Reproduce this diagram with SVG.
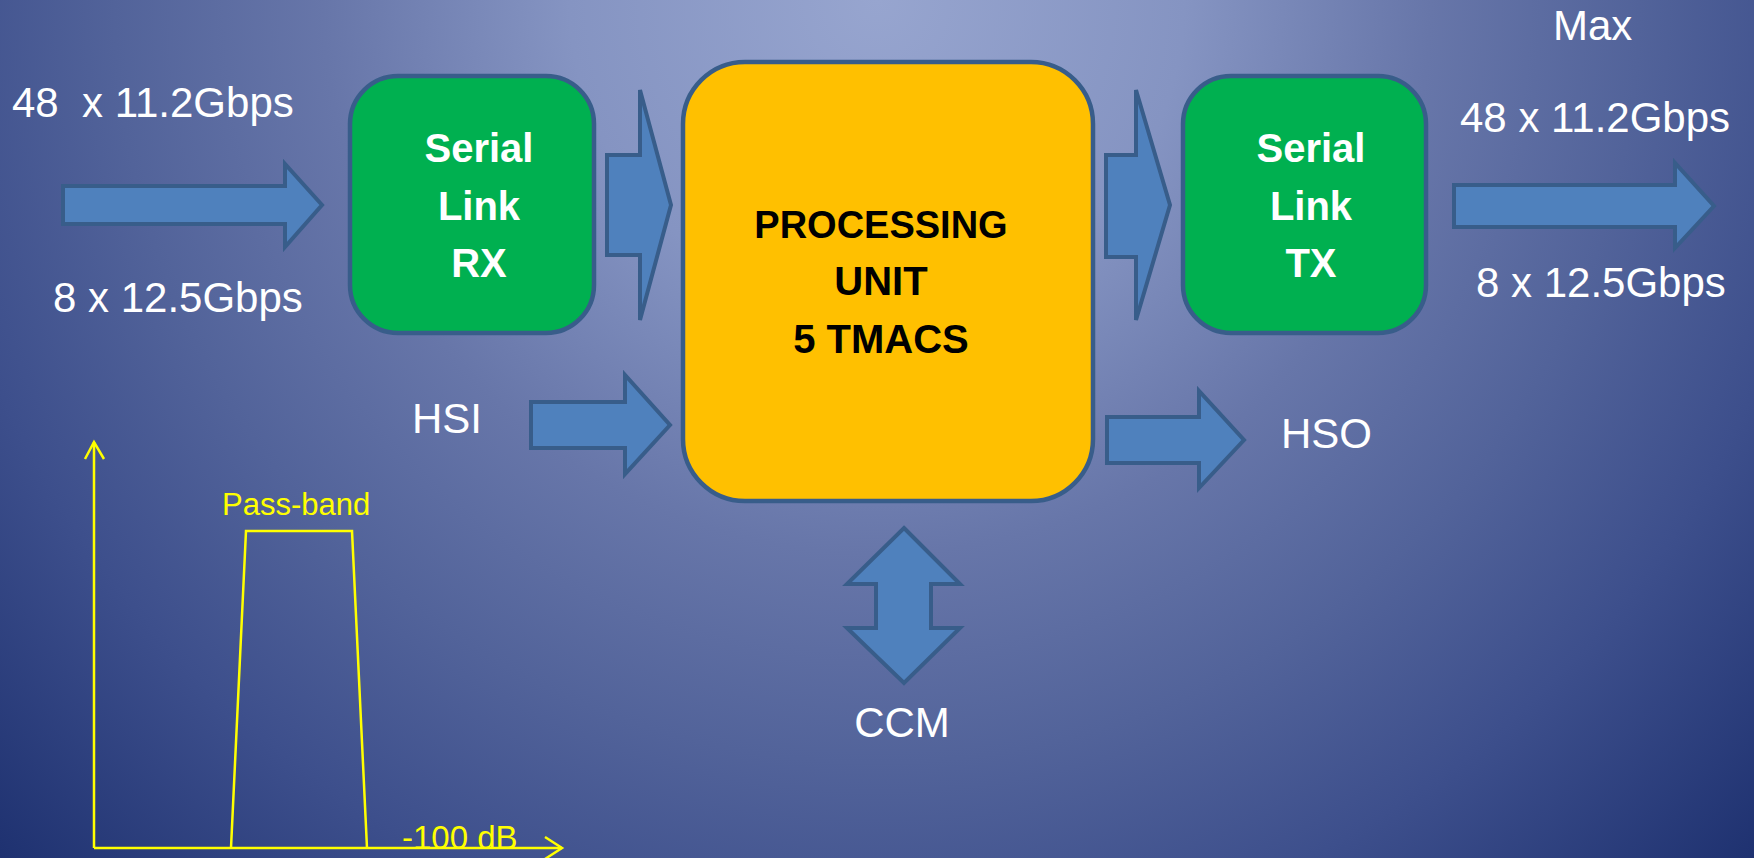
<svg xmlns="http://www.w3.org/2000/svg" width="1754" height="858" viewBox="0 0 1754 858">
<defs>
<radialGradient id="bg" gradientUnits="userSpaceOnUse" cx="877" cy="0" r="1230">
<stop offset="0" stop-color="#97A5CF"/>
<stop offset="0.25" stop-color="#8594C2"/>
<stop offset="0.45" stop-color="#6776A9"/>
<stop offset="0.62" stop-color="#52639A"/>
<stop offset="0.78" stop-color="#3D4F8C"/>
<stop offset="1" stop-color="#1E3170"/>
</radialGradient>
<style>
.arrow{fill:#4F81BD;stroke:#385D8A;stroke-width:4;stroke-linejoin:miter}
.box{stroke:#385D8A;stroke-width:4.5}
.lbl{font-family:"Liberation Sans",Arial,sans-serif;fill:#FFFFFF;font-size:42px}
.bold{font-family:"Liberation Sans",Arial,sans-serif;font-weight:bold;text-anchor:middle}
.yl{stroke:#FFFF00;stroke-width:2.5;fill:none}
.ytx{font-family:"Liberation Sans",Arial,sans-serif;fill:#FFFF00}
</style>
</defs>
<rect x="0" y="0" width="1754" height="858" fill="url(#bg)"/>

<g id="connectors">
<polygon class="arrow" points="63,186 285,186 285,164 322,205 285,247 285,224 63,224"/>
<polygon class="arrow" points="607,155 640,155 640,90 671,205 640,320 640,255 607,255"/>
<polygon class="arrow" points="531,402 625,402 625,375 670,425 625,474 625,448 531,448"/>
<polygon class="arrow" points="1106,155 1136,155 1136,90 1170,205 1136,320 1136,257 1106,257"/>
<polygon class="arrow" points="1454,185 1675,185 1675,163 1714,206 1675,248 1675,227 1454,227"/>
<polygon class="arrow" points="1107,417 1199,417 1199,391 1244,440 1199,488 1199,463 1107,463"/>
<polygon class="arrow" points="904,528 960,584 931,584 931,628 960,628 904,683 847,628 876,628 876,584 847,584"/>
</g>

<g id="rx">
<rect class="box" x="350" y="76" width="244" height="257" rx="48" ry="48" fill="#00B050"/>
<text class="bold" fill="#FFFFFF" font-size="40" x="479" y="162">Serial</text>
<text class="bold" fill="#FFFFFF" font-size="40" x="479" y="220">Link</text>
<text class="bold" fill="#FFFFFF" font-size="40" x="479" y="277">RX</text>
</g>

<g id="pu">
<rect class="box" x="683" y="62" width="410" height="439" rx="62" ry="62" fill="#FFC000"/>
<text class="bold" fill="#000000" font-size="38" x="881" y="238">PROCESSING</text>
<text class="bold" fill="#000000" font-size="40" x="881" y="295">UNIT</text>
<text class="bold" fill="#000000" font-size="40" x="881" y="353">5 TMACS</text>
</g>

<g id="tx">
<rect class="box" x="1183" y="76" width="243" height="257" rx="48" ry="48" fill="#00B050"/>
<text class="bold" fill="#FFFFFF" font-size="40" x="1311" y="162">Serial</text>
<text class="bold" fill="#FFFFFF" font-size="40" x="1311" y="220">Link</text>
<text class="bold" fill="#FFFFFF" font-size="40" x="1311" y="277">TX</text>
</g>

<g id="labels">
<text class="lbl" x="12" y="117" xml:space="preserve">48  x 11.2Gbps</text>
<text class="lbl" x="53" y="312">8 x 12.5Gbps</text>
<text class="lbl" x="1553" y="40">Max</text>
<text class="lbl" x="1460" y="132">48 x 11.2Gbps</text>
<text class="lbl" x="1476" y="297">8 x 12.5Gbps</text>
<text class="lbl" x="412" y="433" font-size="40">HSI</text>
<text class="lbl" x="1281" y="448" font-size="36">HSO</text>
<text class="lbl" x="902" y="737" font-size="37" text-anchor="middle">CCM</text>
</g>

<g id="chart">
<polyline class="yl" points="94,848 94,442"/>
<polyline class="yl" points="85,459 94,442 104,459"/>
<polyline class="yl" points="94,848 562,848"/>
<polyline class="yl" points="545,837 562,848 545,859"/>
<polyline class="yl" points="231,848 246,531 352,531 367,848"/>
<text class="ytx" x="222" y="515" font-size="31">Pass-band</text>
<text class="ytx" x="402" y="849" font-size="33">-100 dB</text>
</g>
</svg>
